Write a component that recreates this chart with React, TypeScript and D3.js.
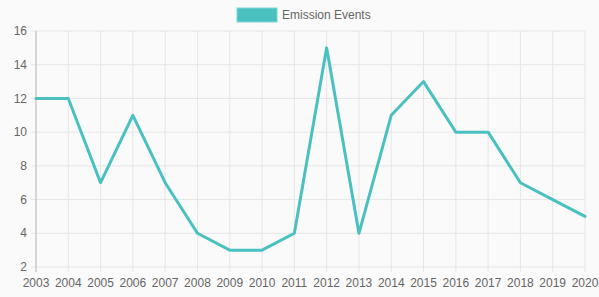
import React, { useRef, useEffect } from 'react';
import * as d3 from 'd3';

const years = ['2003', '2004', '2005', '2006', '2007', '2008', '2009', '2010', '2011', '2012', '2013', '2014', '2015', '2016', '2017', '2018', '2019', '2020'];
const events = [12, 12, 7, 11, 7, 4, 3, 3, 4, 15, 4, 11, 13, 10, 10, 7, 6, 5];
const yTicks = [2, 4, 6, 8, 10, 12, 14, 16];
const seriesName = 'Emission Events';

const W = 599;
const H = 297;
const color = '#4bc0c0';

const App: React.FC = () => {
  const svgRef = useRef<SVGSVGElement | null>(null);

  useEffect(() => {
    const svg = d3.select(svgRef.current!);
    svg.selectAll('*').remove();

    const left = 36, right = 585, top = 31, bottom = 267;

    svg.append('rect').attr('width', W).attr('height', H).attr('fill', '#fafafa');

    const x = d3.scalePoint<string>().domain(years).range([left, right]);
    const y = d3.scaleLinear().domain([2, 16]).range([bottom, top]);

    const font = 'Liberation Sans, Arial, sans-serif';

    // grid
    const grid = svg.append('g');
    grid.selectAll('line.v')
      .data(years)
      .join('line')
      .attr('x1', (d) => x(d)!)
      .attr('x2', (d) => x(d)!)
      .attr('y1', top)
      .attr('y2', bottom + 5)
      .attr('stroke', '#e6e6e6');
    grid.selectAll('line.h')
      .data(yTicks)
      .join('line')
      .attr('class', 'h')
      .attr('x1', left - 5)
      .attr('x2', right)
      .attr('y1', (d) => y(d))
      .attr('y2', (d) => y(d))
      .attr('stroke', '#e6e6e6');

    // left axis line
    svg.append('line')
      .attr('x1', left).attr('x2', left)
      .attr('y1', top).attr('y2', bottom + 5)
      .attr('stroke', '#bdbdbd');

    // labels
    svg.append('g').selectAll('text')
      .data(yTicks)
      .join('text')
      .attr('x', left - 9)
      .attr('y', (d) => y(d))
      .attr('dy', '0.35em')
      .attr('text-anchor', 'end')
      .attr('font-family', font)
      .attr('font-size', 12)
      .attr('fill', '#666')
      .text((d) => d);

    svg.append('g').selectAll('text')
      .data(years)
      .join('text')
      .attr('x', (d) => x(d)!)
      .attr('y', bottom + 16)
      .attr('dy', '0.35em')
      .attr('text-anchor', 'middle')
      .attr('font-family', font)
      .attr('font-size', 12)
      .attr('fill', '#666')
      .text((d) => d);

    // line
    const line = d3.line<number>()
      .x((_, i) => x(years[i])!)
      .y((d) => y(d))
      .curve(d3.curveLinear);

    svg.append('path')
      .datum(events)
      .attr('fill', 'none')
      .attr('stroke', color)
      .attr('stroke-width', 3)
      .attr('stroke-linejoin', 'round')
      .attr('stroke-linecap', 'round')
      .attr('d', line);

    // legend
    const lg = svg.append('g');
    lg.append('rect')
      .attr('x', 237).attr('y', 8)
      .attr('width', 40).attr('height', 14)
      .attr('fill', color)
      .attr('stroke', '#7fd6d6')
      .attr('stroke-width', 1);
    lg.append('text')
      .attr('x', 282).attr('y', 15)
      .attr('dy', '0.35em')
      .attr('font-family', font)
      .attr('font-size', 12)
      .attr('fill', '#666')
      .text(seriesName);
  }, []);

  return (
    <svg ref={svgRef} width={W} height={H} style={{ position: 'absolute', left: 0, top: 0 }}></svg>
  );
};

export default App;
